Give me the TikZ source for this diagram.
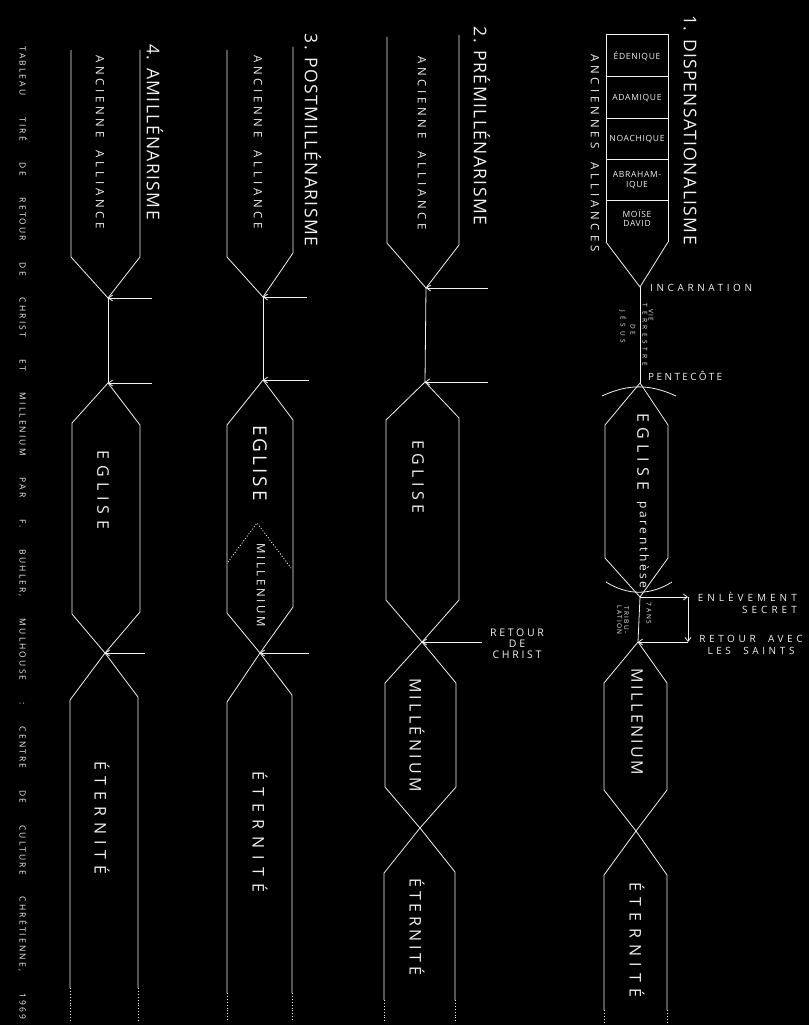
\documentclass[tikz,border=0pt]{standalone}
\usepackage{fontspec}
\setmainfont{Open Sans}
\usepackage{tikz}
\usetikzlibrary{arrows.meta}
\definecolor{Board}{HTML}{000000}
\definecolor{Chalk}{HTML}{F2F2F2}

\begin{document}
\begin{tikzpicture}[x=1pt,y=-1pt,
    wire/.style={Chalk,line width=0.8pt},
    ptr/.style={Chalk,line width=0.8pt,-{Straight Barb[length=4pt,width=6pt]}},
    dots/.style={Chalk,line width=0.9pt,dotted},
    lbl/.style={text=Chalk,inner sep=0pt},
    up/.style={lbl,rotate=-90},
    title/.style={up,font=\fontsize{17.5}{20}\selectfont\addfontfeatures{LetterSpace=8}},
    old/.style={up,font=\fontsize{11.5}{13}\selectfont\addfontfeatures{LetterSpace=#1}},
    old/.default=32,
    era/.style={up,font=\fontsize{16}{18}\selectfont\addfontfeatures{LetterSpace=#1}},
    era/.default=35,
    cell/.style={lbl,align=center,font=\fontsize{8.5}{9.5}\selectfont\addfontfeatures{LetterSpace=8}},
    note/.style={lbl,font=\fontsize{10}{12}\selectfont\addfontfeatures{LetterSpace=#1}},
    note/.default=36,
    tiny/.style={up,align=center,font=\fontsize{6.5}{7}\selectfont\addfontfeatures{LetterSpace=#1}},
    tiny/.default=30]
  \fill[Board] (0,0) rectangle (809,1025);
  \useasboundingbox (0,0) rectangle (809,1025);

  \coordinate (a4) at (108,298);
  \coordinate (b4) at (108,383);
  \coordinate (x4) at (105,653);
  \coordinate (ta4) at (152,298);
  \coordinate (tb4) at (152,383);
  \coordinate (tx4) at (145,653);
  \coordinate (a3) at (263,297);
  \coordinate (b3) at (263,380);
  \coordinate (x3) at (260,653);
  \coordinate (ta3) at (307,297);
  \coordinate (tb3) at (309,380);
  \coordinate (tx3) at (309,653);
  \coordinate (a2) at (426,288);
  \coordinate (b2) at (425,382);
  \coordinate (x2) at (422,642);
  \coordinate (y2) at (420,828);
  \coordinate (ta2) at (488,288);
  \coordinate (tb2) at (488,382);
  \coordinate (tx2) at (482,642);
  \coordinate (a1) at (640,287);
  \coordinate (b1) at (640,383);
  \coordinate (c1) at (640,597);
  \coordinate (d1) at (638,642);
  \coordinate (y1) at (636,831);
  \coordinate (e1) at (688,597);
  \coordinate (f1) at (688,642);

  \draw[wire] (71,50) -- (71,257) -- (a4) -- (140,257) -- (140,50);
  \draw[wire] (a4) -- (b4);
  \draw[wire] (b4) -- (72,423) -- (72,614) -- (x4) -- (138,697) -- (138,988);
  \draw[wire] (b4) -- (140,425) -- (140,612) -- (x4) -- (70,700) -- (70,988);
  \draw[dots] (70,988) -- (70,1022);
  \draw[dots] (138,988) -- (138,1022);
  \draw[ptr] (ta4) -- (a4);
  \draw[ptr] (tb4) -- (b4);
  \draw[ptr] (tx4) -- (x4);

  \draw[wire] (227,50) -- (227,257) -- (a3) -- (293,253) -- (293,47);
  \draw[wire] (a3) -- (b3);
  \draw[wire] (b3) -- (227,425) -- (227,613) -- (x3) -- (292,695) -- (292,993);
  \draw[wire] (b3) -- (293,420) -- (293,607) -- (x3) -- (227,702) -- (227,993);
  \draw[dots] (227,993) -- (227,1022);
  \draw[dots] (292,993) -- (292,1022);
  \draw[dots] (228,562) -- (257,523) -- (291,568);
  \draw[ptr] (ta3) -- (a3);
  \draw[ptr] (tb3) -- (b3);
  \draw[ptr] (tx3) -- (x3);

  \draw[wire] (387,37) -- (387,243) -- (a2) -- (459,245) -- (459,35);
  \draw[wire] (a2) -- (b2);
  \draw[wire] (b2) -- (386,420) -- (386,600) -- (x2) -- (456,683) -- (456,787) -- (y2) -- (384,873) -- (384,1000);
  \draw[wire] (b2) -- (459,418) -- (459,600) -- (x2) -- (385,683) -- (385,787) -- (y2) -- (455,872) -- (455,1000);
  \draw[dots] (384,1000) -- (384,1022);
  \draw[dots] (455,1000) -- (455,1022);
  \draw[ptr] (ta2) -- (a2);
  \draw[ptr] (tb2) -- (b2);
  \draw[ptr] (tx2) -- (x2);

  \draw[wire] (606,242) -- (606,34) -- (668,34) -- (668,242);
  \foreach \y in {76,118,159,200}
    \draw[wire] (606,\y) -- (668,\y);
  \draw[wire] (606,242) -- (a1) -- (668,242);
  \draw[wire] (a1) -- (b1);
  \draw[wire] (602,396) to[bend left=25] (676,396);
  \draw[wire] (b1) -- (605,425) -- (605,558) -- (c1) -- (668,558) -- (668,425) -- (b1);
  \draw[wire] (606,582) to[bend right=32] (672,582);
  \draw[wire] (c1) -- (d1);
  \draw[ptr] (c1) -- (e1);
  \draw[ptr] (e1) -- (f1);
  \draw[ptr] (f1) -- (d1);
  \draw[wire] (d1) -- (604,683) -- (604,790) -- (y1) -- (667,875) -- (667,1010);
  \draw[wire] (d1) -- (667,683) -- (667,790) -- (y1) -- (604,875) -- (604,1010);
  \draw[dots] (604,1010) -- (604,1022);
  \draw[dots] (667,1010) -- (667,1022);

  \node[title] (t1) at (690,130) {1. DISPENSATIONALISME};
  \node[title] (t2) at (482,126) {2. PRÉMILLÉNARISME};
  \node[title] (t3) at (313,140) {3. POSTMILLÉNARISME};
  \node[title] (t4) at (155,132) {4. AMILLÉNARISME};

  \node[old=34] (aa1) at (595,153) {ANCIENNES\ \ ALLIANCES};
  \node[old] (aa2) at (422,143) {ANCIENNE\ \ ALLIANCE};
  \node[old] (aa3) at (258,142) {ANCIENNE\ \ ALLIANCE};
  \node[old] (aa4) at (100,142) {ANCIENNE\ \ ALLIANCE};

  \node[cell] (eden) at (637,56) {ÉDENIQUE};
  \node[cell] (adam) at (637,98) {ADAMIQUE};
  \node[cell] (noe) at (637,139) {NOACHIQUE};
  \node[cell] (abr) at (637,180) {ABRAHAM-\\IQUE};
  \node[cell] (moise) at (637,218) {MOÏSE\\DAVID};

  \node[note,anchor=west] (inc) at (650,288) {INCARNATION};
  \node[note=24,anchor=west] (pent) at (648,376) {PENTECÔTE};
  \node[tiny=15] (vie) at (651,315) {VIE};
  \node[tiny=55] (terre) at (645,335) {TERRESTRE};
  \node[tiny=30] (de) at (633,330) {DE};
  \node[tiny=60] (jesus) at (623,327) {JÉSUS};
  \node[era=33] (egl1) at (643,452) {EGLISE};
  \node[up,font=\fontsize{12}{14}\selectfont\addfontfeatures{LetterSpace=22}] (par1) at (643,545) {parenthèse};
  \node[note=40,align=right,anchor=east] (enl) at (797,603) {ENLÈVEMENT\\SECRET};
  \node[note=36,align=center] (ret1) at (751,645) {RETOUR\ \ AVEC\\LES\ \ SAINTS};
  \node[tiny=20] (ans) at (649,613) {7 ANS};
  \node[tiny=20] (trib) at (623,620) {TRIBU-\\LATION};
  \node[era=15] (mil1) at (637,722) {MILLENIUM};
  \node[era=40] (et1) at (637,940) {ÉTERNITÉ};

  \node[era=27] (egl2) at (418,477) {EGLISE};
  \node[lbl,align=center,font=\fontsize{10.5}{11}\selectfont\addfontfeatures{LetterSpace=26}] (ret2) at (517,644) {RETOUR\\DE\\CHRIST};
  \node[era=21] (mil2) at (417,735) {MILLÉNIUM};
  \node[era=23] (et2) at (417,927) {ÉTERNITÉ};

  \node[up,font=\fontsize{19}{21}\selectfont\addfontfeatures{LetterSpace=16}] (egl3) at (260,463) {EGLISE};
  \node[up,font=\fontsize{11.5}{12}\selectfont\addfontfeatures{LetterSpace=22}] (mil3) at (261,585) {MILLENIUM};
  \node[era=45] (et3) at (260,832) {ÉTERNITÉ};

  \node[era=34] (egl4) at (103,490) {EGLISE};
  \node[era=38] (et4) at (102,818) {ÉTERNITÉ};

  \node[up,font=\fontsize{8.5}{9}\selectfont\addfontfeatures{LetterSpace=25}] (src) at (23,533) {\makebox[972pt][s]{TABLEAU TIRÉ DE RETOUR DE CHRIST ET MILLENIUM PAR F. BUHLER, MULHOUSE : CENTRE DE CULTURE CHRÉTIENNE, 1969}};
\end{tikzpicture}
\end{document}
